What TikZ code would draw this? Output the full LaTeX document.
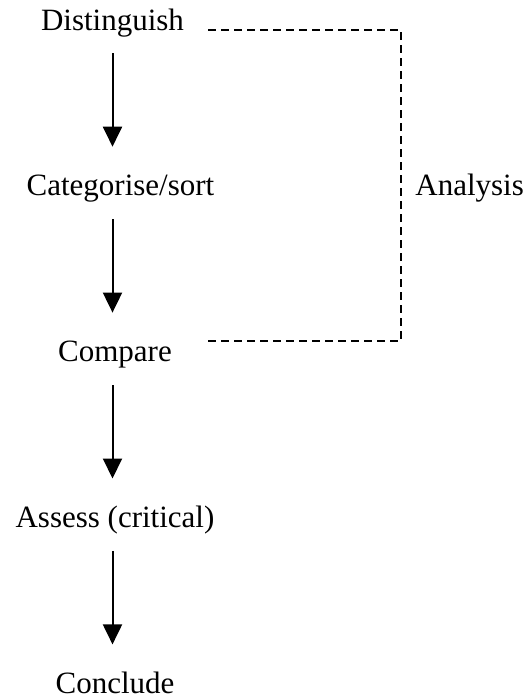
\documentclass[tikz,border=0pt]{standalone}
\usepackage{fontspec}
\setmainfont{Liberation Serif}
\usepackage{tikz}
\usetikzlibrary{arrows.meta,positioning}

\begin{document}
\begin{tikzpicture}[node distance=137.5pt, >={Triangle[length=20pt,width=19pt]}]
    % Define styles
    \tikzstyle{stage} = [inner sep=0pt, text height=21pt, text depth=7pt, font=\fontsize{31}{37}\selectfont]
    \tikzstyle{line} = [draw, ->, line width=2pt, shorten <=16pt, shorten >=28pt]
    \tikzstyle{bracket} = [draw, line width=1.8pt, dash pattern=on 8pt off 5pt]

    \useasboundingbox (0,0) rectangle (529pt,-699pt);

    % Nodes
    \node [stage, anchor=base] (distinguish) at (112.5pt,-30pt) {Distinguish};
    \node [stage, below=of distinguish, xshift=8pt] (categorise) {Categorise/sort};
    \node [stage, below=of categorise, xshift=-5.5pt] (compare) {Compare};
    \node [stage, below=of compare] (assess) {Assess (critical)};
    \node [stage, below=of assess] (conclude) {Conclude};

    % Arrows
    \draw [line] (distinguish.south) -- (categorise.north -| distinguish);
    \draw [line] (categorise.south -| distinguish) -- (compare.north -| distinguish);
    \draw [line] (compare.south -| distinguish) -- (assess.north -| distinguish);
    \draw [line] (assess.south -| distinguish) -- (conclude.north -| distinguish);

    % Analysis bracket
    \coordinate (topL) at ([xshift=24pt]distinguish.base east);
    \coordinate (topR) at ([xshift=217pt]distinguish.base east);
    \coordinate (botL) at (topL |- compare.north);
    \coordinate (botR) at (topR |- compare.north);
    \coordinate (midR) at (topR |- categorise.base);
    \draw [bracket] (topL) -- (topR) -- (botR) -- (botL);
    \node [stage, anchor=base west, xshift=14pt] (analysis) at (midR) {Analysis};
\end{tikzpicture}
\end{document}
